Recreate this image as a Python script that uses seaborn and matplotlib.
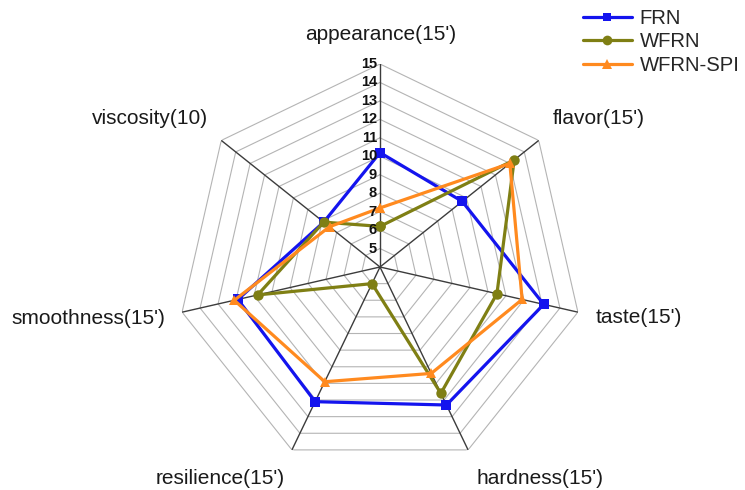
import numpy as np
import pandas as pd
import matplotlib
matplotlib.use("Agg")
import matplotlib.pyplot as plt
import seaborn as sns

# Sensory evaluation scores
categories = ["appearance(15')", "flavor(15')", "taste(15')", "hardness(15')",
              "resilience(15')", "smoothness(15')", "viscosity(10)"]
frn = [10.2, 9.7, 13.1, 12.3, 12.1, 11.9, 7.9]
wfrn = [6.2, 13.3, 10.5, 11.6, 5.0, 10.8, 7.9]
wfrn_spi = [7.2, 13.0, 11.9, 10.4, 10.9, 12.1, 7.5]
series_names = ["FRN", "WFRN", "WFRN-SPI"]
radial_ticks = list(range(5, 16))
r_min, r_max = 4, 15

colors = {"FRN": "#1414ee", "WFRN": "#7f7f14", "WFRN-SPI": "#ff8a1f"}
markers = {"FRN": "s", "WFRN": "o", "WFRN-SPI": "^"}
msizes = {"FRN": 6.5, "WFRN": 7.5, "WFRN-SPI": 7.5}

sns.set_style("white")
plt.rcParams["font.family"] = ["Liberation Sans", "DejaVu Sans"]

n = len(categories)
theta = np.linspace(0, 2 * np.pi, n, endpoint=False)
theta_closed = np.append(theta, theta[0])

rows = []
for name, vals in zip(series_names, [frn, wfrn, wfrn_spi]):
    closed = list(vals) + [vals[0]]
    for order, (t, v) in enumerate(zip(theta_closed, closed)):
        rows.append({"series": name, "theta": t, "score": v, "order": order})
df = pd.DataFrame(rows)

W, H = 745, 490
fig = plt.figure(figsize=(W / 100, H / 100), dpi=100)
cx, cy, R = 380, 267, 203
ax = fig.add_axes([(cx - R) / W, (H - cy - R) / H, 2 * R / W, 2 * R / H],
                  projection="polar")
ax.set_theta_offset(np.pi / 2)
ax.set_theta_direction(-1)
ax.grid(False)
ax.spines["polar"].set_visible(False)
ax.patch.set_alpha(0)

# heptagonal rings and spokes
for v in radial_ticks:
    ax.plot(theta_closed, [v] * (n + 1), color="#b4b4b4", lw=0.8, zorder=1)
for t in theta:
    ax.plot([t, t], [r_min, r_max], color="#3c3c3c", lw=1.0, zorder=2)

for name in series_names:
    sub = df[df["series"] == name]
    sns.lineplot(data=sub, x="theta", y="score", sort=False, estimator=None,
                 color=colors[name], marker=markers[name],
                 markersize=msizes[name], markeredgewidth=0,
                 lw=2.3, label=name, ax=ax, zorder=3, legend=False)

ax.set_ylim(r_min, r_max)
ax.set_xticks([])
ax.set_yticks([])
ax.set_xlabel("")
ax.set_ylabel("")

# radial scale numbers along the top spoke
for v in radial_ticks:
    ax.annotate(str(v), xy=(0, v), xytext=(-3, 0), textcoords="offset pixels",
                ha="right", va="center", fontsize=10.5, fontweight="bold",
                color="#111111", zorder=4)

# category labels placed outside each outer vertex
label_offsets = [(1, 29), (60, 22), (61, -5), (72, -29),
                 (-72, -29), (-94, -6), (-71, 22)]
for t, lab, off in zip(theta, categories, label_offsets):
    ax.annotate(lab, xy=(t, r_max), xytext=off, textcoords="offset pixels",
                ha="center", va="center", fontsize=15, color="#1a1a1a",
                annotation_clip=False)

handles = [plt.Line2D([], [], color=colors[s], marker=markers[s],
                      markersize=msizes[s] - 0.5, markeredgewidth=0, lw=2.3)
           for s in series_names]
fig.legend(handles, series_names, loc="upper left",
           bbox_to_anchor=(583 / W, 1 - 9 / H), frameon=False,
           fontsize=14.6, handlelength=2.4, handletextpad=0.4,
           labelspacing=0.22, borderpad=0, borderaxespad=0)

fig.savefig("out.png", dpi=100)
